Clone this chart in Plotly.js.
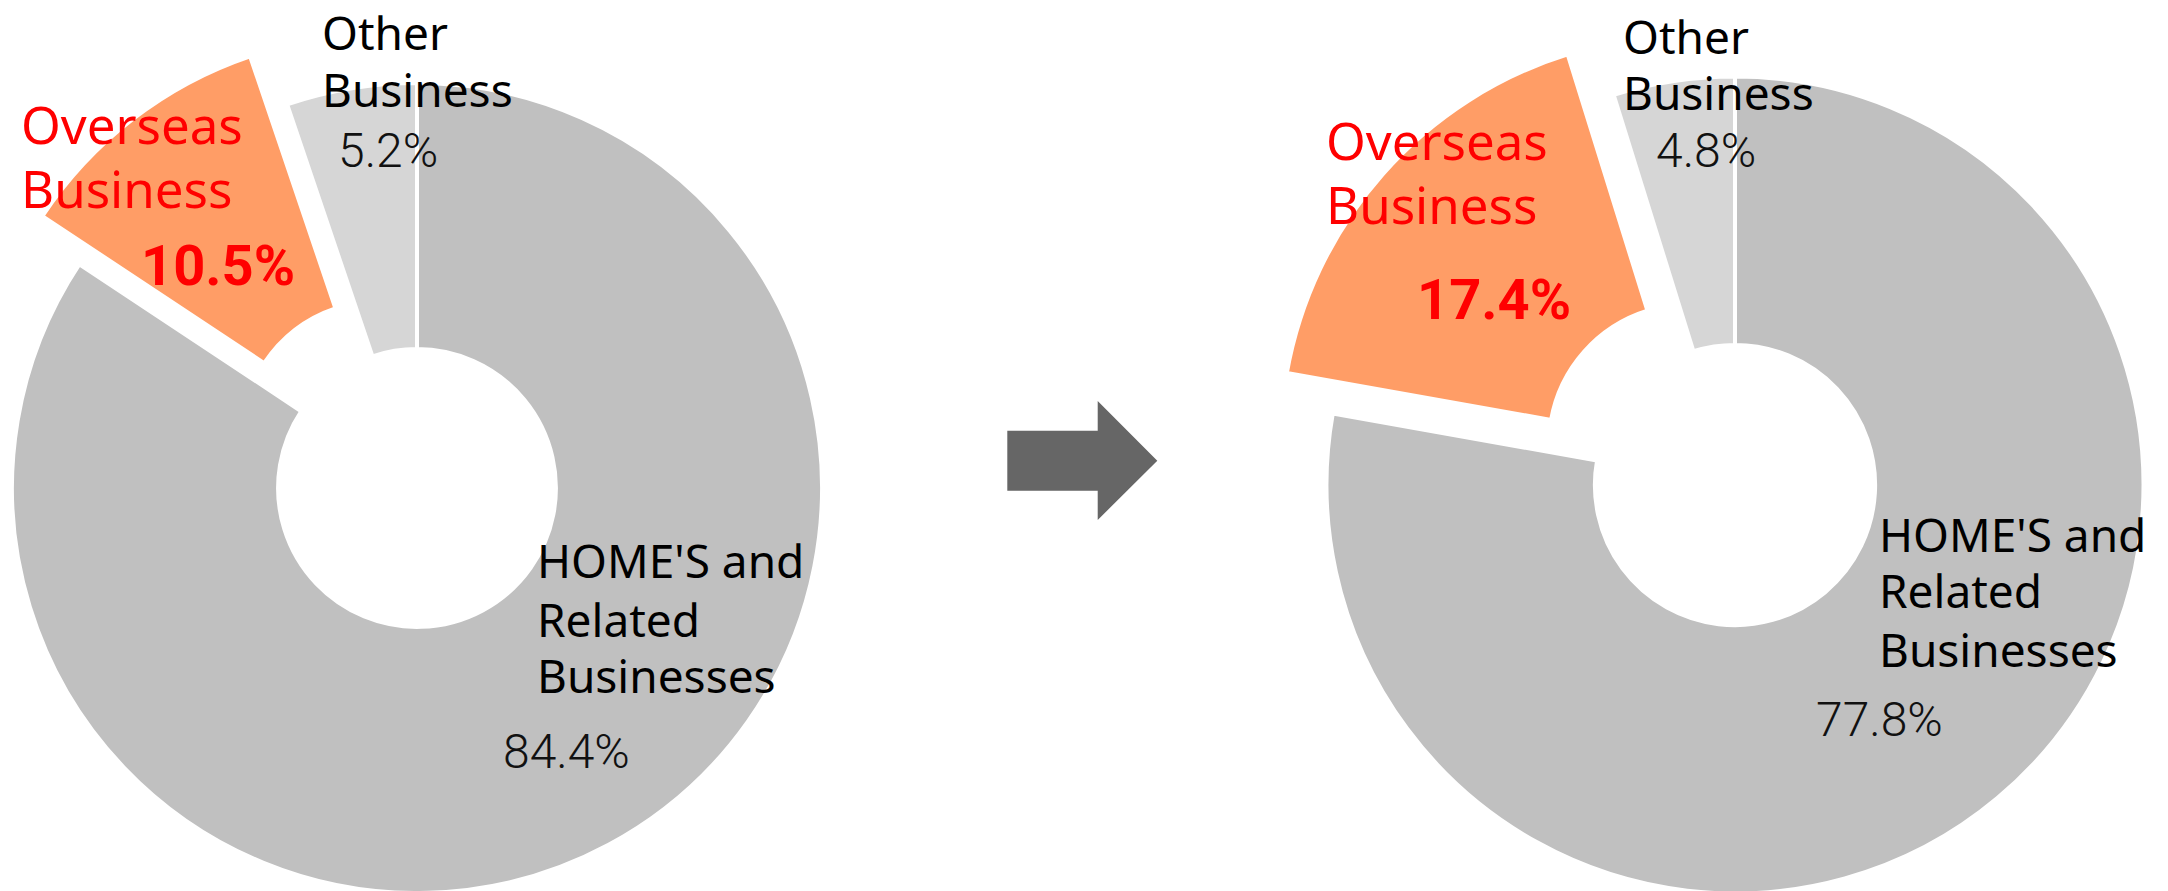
<!DOCTYPE html>
<html><head><meta charset="utf-8">
<script src="https://cdn.plot.ly/plotly-3.0.1.min.js"></script>
<style>
html,body{margin:0;padding:0;background:#fff;overflow:hidden;}
#frame{position:relative;width:2168px;height:891px;overflow:hidden;background:#fff;}
#chart{position:absolute;left:-100px;top:0;width:2368px;height:1000px;}
</style></head><body>
<div id="frame"><div id="chart"></div></div>
<script>
// ---- data ----
const categories = ["HOME'S and Related Businesses", "Overseas Business", "Other Business"];
const labelLines = [["HOME'S and", "Related", "Businesses"], ["Overseas", "Business"], ["Other", "Business"]];
const shareBefore = [84.4, 10.5, 5.2];
const shareAfter = [77.8, 17.4, 4.8];

// ---- styles ----
const sliceColors = ["#C0C0C0", "#FF9D66", "#D6D6D6"];
const labelColors = ["#000000", "#FF0000", "#000000"];
const slicePull = [0, 0.15, 0];

// ---- geometry (screen pixels) ----
const W = 2368, H = 1000, OFF = 100;
function px(x){ return (x + OFF) / W; }
function py(y){ return 1 - y / H; }
function dom(cx, cy, r, pull){
  const half = r * (1 + pull);
  return {x:[px(cx - half), px(cx + half)], y:[py(cy + half), py(cy - half)]};
}
const maxPull = Math.max(...slicePull);
const pies = [
  {values: shareBefore, cx: 417, cy: 488, r: 405,
   labelPos: [{x:535, b:[578.3, 636.7, 693.3]}, {x:19, b:[143.3, 207.3]}, {x:319.6, b:[50, 106.7]}],
   pctPos: [{x:566.4, b:768}, {x:218, b:285}, {x:387.5, b:166.7}]},
  {values: shareAfter, cx: 1735, cy: 485, r: 408.5,
   labelPos: [{x:1876.7, b:[551.7, 608.3, 666.7]}, {x:1324, b:[160, 223.3]}, {x:1621.2, b:[53.5, 110.2]}],
   pctPos: [{x:1879.7, b:736}, {x:1493.6, b:319.3}, {x:1705.5, b:166.7}]}
];
const labelSize = [46, 51, 46];
const pctFont = [
  {family:"Roboto", size:48, weight:300, color:"#111111"},
  {family:"Roboto", size:56, weight:"bold", color:"#FF0000"},
  {family:"Roboto", size:48, weight:300, color:"#111111"}
];
const NOTO_MID = 0.388, ROBOTO_MID = 0.342;

const traces = [];
const annotations = [];
pies.forEach(p => {
  traces.push({
    type: "pie", labels: categories, values: p.values,
    sort: false, direction: "clockwise", rotation: 0,
    hole: 0.343, pull: slicePull,
    marker: {colors: sliceColors, line: {color: "#FFFFFF", width: 4}},
    textinfo: "none", hoverinfo: "skip", showlegend: false,
    domain: dom(p.cx, p.cy, p.r, maxPull)
  });
  categories.forEach((c, i) => {
    const lp = p.labelPos[i];
    labelLines[i].forEach((line, k) => {
      annotations.push({
        xref: "paper", yref: "paper", showarrow: false,
        x: px(lp.x), y: py(lp.b[k] - NOTO_MID * labelSize[i]),
        xanchor: "left", yanchor: "middle", text: line,
        font: {family: "Noto Sans", size: labelSize[i], color: labelColors[i]}
      });
    });
    const pp = p.pctPos[i];
    annotations.push({
      xref: "paper", yref: "paper", showarrow: false,
      x: px(pp.x), y: py(pp.b - ROBOTO_MID * pctFont[i].size),
      xanchor: "center", yanchor: "middle",
      text: p.values[i].toFixed(1) + "%",
      font: pctFont[i]
    });
  });
});

// arrow between the two donuts
const arrowPts = [[1007.3,430.7],[1097.7,430.7],[1097.7,401],[1157.3,460.7],[1097.7,520],[1097.7,490.7],[1007.3,490.7]];
const arrowPath = "M " + arrowPts.map(q => px(q[0]).toFixed(5) + "," + py(q[1]).toFixed(5)).join(" L ") + " Z";

const layout = {
  width: W, height: H,
  margin: {l:0, r:0, t:0, b:0, pad:0},
  paper_bgcolor: "#FFFFFF", plot_bgcolor: "#FFFFFF",
  showlegend: false,
  annotations: annotations,
  shapes: [{type:"path", xref:"paper", yref:"paper", path: arrowPath,
            fillcolor:"#666666", line:{width:0}}]
};
Plotly.newPlot("chart", traces, layout, {staticPlot: true, displayModeBar: false});
</script>
</body></html>
